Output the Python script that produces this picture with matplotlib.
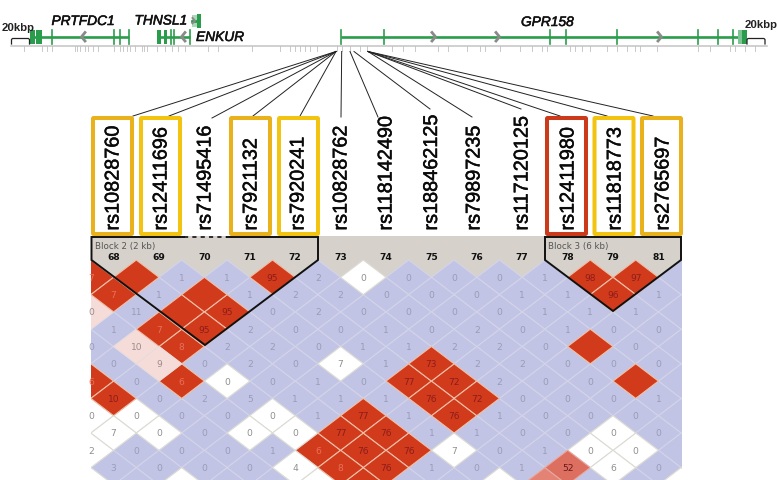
import matplotlib
matplotlib.use("Agg")
import matplotlib.pyplot as plt
from matplotlib.patches import Polygon, Rectangle, FancyBboxPatch
import matplotlib.patheffects as pe

# ---------- data ----------
snp_names = ["rs10828760", "rs12411696", "rs71495416", "rs7921132", "rs7920241",
             "rs10828762", "rs118142490", "rs188462125", "rs79897235",
             "rs117120125", "rs12411980", "rs11818773", "rs2765697"]
snp_text_x = [113, 161, 205, 251, 298, 341, 386, 431.5, 474, 522, 568, 615, 663]
snp_box_col = ["#e9b11c", "#f2c311", None, "#e9b11c", "#f2c311", None, None, None,
               None, None, "#cc3a1c", "#f2c311", "#e9b11c"]
box_left = [93, 141, None, 231, 279, None, None, None, None, None, 547, 594.5, 642]
fan_start = [336, 336, 336, 336, 336, 341.7, 350, 354, 368, 368, 368, 368, 368]
fan_end_x = [133, 169, 212, 253, 300, 341, 378, 430, 472, 521, 560, 607, 653]
fan_end_y = [117, 117, 119, 117, 117, 118, 118, 110, 118, 110, 117, 117, 117]

column_names = ["68", "69", "70", "71", "72", "73", "74", "75", "76", "77", "78", "79", "81"]

# LD cells, row by row: value text + class. (no class) blue, R red, F red with faint text,
# W white, P pink, M medium red, L lighter red
even_rows = {
    0: ["7F", "R", "1", "1", "95R", "2", "0W", "0", "0", "0", "1", "98R", "97R", ""],
    2: ["0P", "11", "R", "95R", "0", "2", "0", "0", "0", "0", "1", "1", "1", ""],
    4: ["0", "10P", "8F", "2", "2", "0", "1", "1", "2", "2", "0", "R", "0", ""],
    6: ["6F", "0", "6F", "0W", "0", "1", "0", "77R", "72R", "2", "0", "0", "R", ""],
    8: ["0W", "0W", "0", "0", "0W", "1", "77R", "1", "76R", "1", "0", "0", "0", ""],
    10: ["2W", "0", "0", "0", "1", "6F", "76R", "76R", "7W", "0", "1", "0W", "0W", ""],
    12: ["W", "", "W", "", "", "W", "R", "", "", "W", "L", "", "", "W"],
}
odd_rows = {
    1: ["7F", "1", "R", "1", "2", "2", "0", "0", "0", "1", "1", "96R", "1"],
    3: ["1", "7F", "95R", "2", "0", "0", "1", "0", "2", "0", "1", "0", "0"],
    5: ["0", "9P", "0", "2", "0", "7W", "1", "73R", "2", "2", "0", "0", "0"],
    7: ["10R", "0", "2", "5", "1", "1", "1", "76R", "72R", "0", "0", "0", "1"],
    9: ["7W", "0W", "0", "0W", "0W", "77R", "76R", "1", "1", "0", "0", "0W", "0"],
    11: ["3", "0", "0", "0", "4W", "8F", "76R", "1", "0", "1", "52M", "6W", "0"],
}
block_names = ["Block 2 (2 kb)", "Block 3 (6 kb)"]

genes_main = {"PRTFDC1": (30, 129), "ENKUR": (157, 190), "GPR158": (340.7, 746)}
exon_ticks = [52, 114, 120, 129, 171, 174, 190, 340.7, 384, 550, 565.7, 616.7, 697.7, 718, 732.7]
exon_blocks = [(30, 35), (36, 41.7), (157, 161), (163.5, 167), (742, 746.5)]
arrows_left = [83, 183]
arrows_right = [434, 498, 660]
snp_track = [24, 41.7, 46.7, 51.7, 75, 77.3, 80, 85, 88.3, 93.3, 98.3, 114, 120, 123.3,
             126.7, 130, 135, 141.7, 144, 146.7, 156.7, 165, 171.7, 178.3, 185, 208.3,
             218.3, 251.7, 280, 290, 295, 300, 305, 310, 316.7, 336.7, 341.7, 350, 360,
             366.7, 391.7, 403.3, 415, 438.3, 448.3, 466.7, 480, 485, 500, 520, 531.7,
             541.7, 546.7, 570, 575, 581.7, 590, 606.7, 616.7, 626.7, 635, 640, 656.7,
             698.3, 710, 730, 735, 745, 755]

# ---------- drawing ----------
plt.rcParams["font.family"] = ["Liberation Sans", "DejaVu Sans"]
fig = plt.figure(figsize=(7.77, 4.81), dpi=100)
ax = fig.add_axes([0, 0, 1, 1])
ax.set_xlim(0, 777)
ax.set_ylim(481, 0)
ax.axis("off")

GREEN = "#2a9d4c"
GREY = "#8a8a8a"

# track
ax.plot([11, 767], [46.8, 46.8], color="#c4c4c4", lw=1.1, zorder=1)
for x in snp_track:
    ax.plot([x, x], [47, 52], color="#c0c0c0", lw=0.6, zorder=1)

# genes
for name, (a, b) in genes_main.items():
    ax.plot([a, b], [37.8, 37.8], color=GREEN, lw=1.9, solid_capstyle="butt", zorder=2)
for x in exon_ticks:
    ax.plot([x, x], [31, 45], color=GREEN, lw=1.2, zorder=2)
for a, b in exon_blocks:
    ax.add_patch(Rectangle((a, 30.5), b - a, 14.5, color=GREEN, lw=0, zorder=2))
ax.add_patch(Rectangle((737.7, 30.5), 4.5, 14.5, color="#7cc493", lw=0, zorder=2))
ax.add_patch(Rectangle((197, 15), 4.2, 13.5, color=GREEN, lw=0, zorder=2))
ax.add_patch(Rectangle((192, 15.5), 5, 12.5, color="#a9d9b8", lw=0, zorder=2))
ax.plot([192, 197], [21.7, 21.7], color=GREEN, lw=2, zorder=3)
ax.plot([192.5, 195, 192.5], [19, 21.7, 24.4], color=GREY, lw=1.4, zorder=4)
for x in arrows_left:
    ax.plot([x + 2, x - 1.5, x + 2], [33.5, 37.8, 42], color=GREY, lw=2, zorder=4)
for x in arrows_right:
    ax.plot([x - 2, x + 1.5, x - 2], [33.5, 37.8, 42], color=GREY, lw=2, zorder=4)

name_font = dict(style="italic", fontsize=9.9, color="#111111", va="center",
                 path_effects=[pe.withStroke(linewidth=0.4, foreground="#111111")])
ax.text(51.5, 22, "PRTFDC1", **name_font)
ax.text(134.5, 21.5, "THNSL1", **name_font)
ax.text(196, 38, "ENKUR", **name_font)
ax.text(521, 23, "GPR158", **name_font)

# 20 kbp
for a, b in [(11.5, 29.5), (747, 765)]:
    ax.plot([a, a, a + 1, b - 1, b, b], [45, 40.5, 39.5, 39.5, 40.5, 45], color="#222222", lw=0.9, zorder=2)
ax.text(1.5, 27.7, "20kbp", fontsize=8.2, fontweight="bold", color="#222222", va="center")
ax.text(744.5, 25.5, "20kbp", fontsize=8.2, fontweight="bold", color="#222222", va="center")

# fan
for s, ex, ey in zip(fan_start, fan_end_x, fan_end_y):
    ax.plot([s, ex], [52.5, ey], color="#222222", lw=0.7, zorder=3)

# heat map
clip = Rectangle((91, 237), 591, 244, transform=ax.transData)
ax.add_patch(Rectangle((91, 237), 591, 244, facecolor="#d6d2cb", edgecolor="none", zorder=1))

STEP_X, HALF_X = 45.4, 22.7
ROW_0, HALF_Y = 278.3, 17.3
X_EVEN, X_ODD = 90.9, 113.6
CELL_COL = {"B": "#c1c4e4", "R": "#d13b1b", "F": "#d13b1b", "W": "#ffffff",
            "P": "#f6dcd8", "M": "#dd6f60", "L": "#e28376"}
EDGE_COL = {"B": "#d3d4e9", "R": "#eebfa8", "F": "#eebfa8", "W": "#dcdbd4",
            "P": "#e9dcdc", "M": "#e8a79e", "L": "#e8a79e"}
TEXT_COL = {"B": "#9a9cb8", "R": "#8d1c1c", "F": "#e8705a", "W": "#8f8f8f",
            "P": "#9c8c8c", "M": "#6a1a1a", "L": "#6a1a1a"}


def split(cell):
    if cell and cell[-1] in CELL_COL:
        return cell[:-1], cell[-1]
    return cell, "B"


def draw_row(r, x0, cells):
    y = ROW_0 + r * HALF_Y
    for k, cell in enumerate(cells):
        x = x0 + k * STEP_X
        txt, cls = split(cell)
        p = Polygon([(x - HALF_X, y), (x, y - HALF_Y), (x + HALF_X, y), (x, y + HALF_Y)],
                    closed=True, facecolor=CELL_COL[cls], edgecolor=EDGE_COL[cls],
                    lw=0.8, zorder=4 if cls != "B" else 3)
        ax.add_patch(p)
        p.set_clip_path(clip)
        if txt and x > 86:
            t = ax.text(x, y, txt, ha="center", va="center", fontsize=6.6,
                        color=TEXT_COL[cls], zorder=5, family="DejaVu Sans")
            t.set_clip_path(clip)


for r, cells in even_rows.items():
    draw_row(r, X_EVEN, cells)
for r, cells in odd_rows.items():
    draw_row(r, X_ODD, cells)

# column names
for k, name in enumerate(column_names):
    ax.text(X_ODD + k * STEP_X, 258, name, ha="center", va="center", fontsize=6.6,
            fontweight="bold", color="#111111", zorder=6, family="DejaVu Sans")

# blocks
BL = "#111111"
ax.plot([91.5, 91.5, 205, 318, 318], [238, 261, 346, 261, 238], color=BL, lw=1.4, zorder=6,
        solid_joinstyle="miter")
ax.plot([91.5, 184], [238, 238], color=BL, lw=1.4, zorder=6)
ax.plot([184, 227], [238, 238], color=BL, lw=1.2, ls=(0, (2.5, 2.5)), zorder=6)
ax.plot([227, 318], [238, 238], color=BL, lw=1.4, zorder=6)
ax.plot([545, 545, 613, 681, 681, 545], [238, 261, 312, 261, 238, 238], color=BL, lw=1.4,
        zorder=6, solid_joinstyle="miter")
for x, s in zip([95, 548], block_names):
    ax.text(x, 246.5, s, fontsize=6.3, color="#555555", va="center", zorder=6,
            family="DejaVu Sans")

# labelled boxes
for left, c in zip(box_left, snp_box_col):
    if c:
        ax.add_patch(FancyBboxPatch((left, 119), 39, 116, boxstyle="round,pad=0,rounding_size=0.8",
                                    facecolor="white", edgecolor=c, lw=2.9, zorder=7))
for x, s in zip(snp_text_x, snp_names):
    ax.text(x, 231.5, s, rotation=90, ha="center", va="bottom", fontsize=14.3, color="#0a0a0a",
            zorder=8, path_effects=[pe.withStroke(linewidth=0.35, foreground="#0a0a0a")])

fig.savefig("out.png", dpi=100)
